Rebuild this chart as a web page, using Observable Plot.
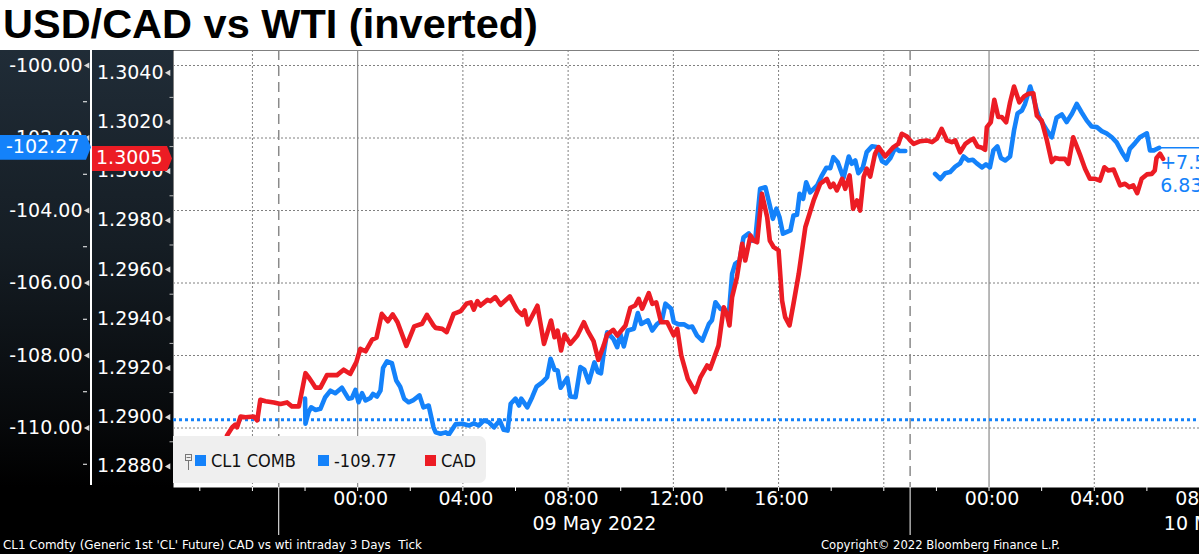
<!DOCTYPE html>
<html>
<head>
<meta charset="utf-8">
<script src="https://cdn.jsdelivr.net/npm/d3@7"></script>
<script src="https://cdn.jsdelivr.net/npm/@observablehq/plot@0.6"></script>
<style>
html,body{margin:0;padding:0;width:1199px;height:554px;overflow:hidden;background:#000;font-family:"DejaVu Sans",sans-serif;}
#title{position:absolute;left:0;top:0;width:1199px;height:50px;background:#fff;}
#title span{position:absolute;left:3px;top:3px;font:bold 41.5px/42px "Liberation Sans",Arial,sans-serif;color:#000;white-space:nowrap;}
#panel{position:absolute;left:0;top:50px;width:173px;height:437px;background:linear-gradient(to bottom,#202c37 0%,#151d24 45%,#07090b 85%,#000 100%);}
#axisline{position:absolute;left:90px;top:50px;width:1.5px;height:435px;background:#fff;}
#chart{position:absolute;left:0;top:50px;}
.lastlab{position:absolute;height:25px;line-height:25px;color:#fff;font:19px "DejaVu Sans",sans-serif;white-space:nowrap;box-sizing:border-box;clip-path:polygon(0 0,calc(100% - 5px) 0,100% 50%,calc(100% - 5px) 100%,0 100%);}
#legend{position:absolute;left:173px;top:436px;width:313px;height:47px;background:#efefef;border-radius:0 7px 7px 0;}
.lg{position:absolute;font:18px "DejaVu Sans Condensed","DejaVu Sans",sans-serif;color:#111;white-space:nowrap;line-height:20px;top:15px;}
.sq{position:absolute;width:11px;height:11px;top:19px;}
.foot{position:absolute;top:538px;font:12px "DejaVu Sans Condensed","DejaVu Sans",sans-serif;color:#fff;white-space:nowrap;transform-origin:left center;line-height:14px;}
</style>
</head>
<body>
<div id="title"><span>USD/CAD vs WTI (inverted)</span></div>
<div id="panel"></div>
<div id="axisline"></div>
<div id="chart"></div>
<div id="legend">
  <svg style="position:absolute;left:11px;top:17px" width="10" height="18"><rect x="1.5" y="1.5" width="6" height="6" fill="none" stroke="#777" stroke-width="1"/><line x1="4.5" y1="7.5" x2="4.5" y2="17" stroke="#777" stroke-width="1"/><line x1="2.5" y1="4.5" x2="6.5" y2="4.5" stroke="#777" stroke-width="1"/></svg>
  <div class="sq" id="sq1" style="left:22px"></div><div class="lg" id="lg1" style="left:38px"></div>
  <div class="sq" id="sq2" style="left:145px"></div><div class="lg" id="lg2" style="left:161px"></div>
  <div class="sq" id="sq3" style="left:252px"></div><div class="lg" id="lg3" style="left:268px"></div>
</div>
<div class="foot" id="foot1" style="left:3px">CL1 Comdty (Generic 1st 'CL' Future) CAD vs wti intraday 3 Days&nbsp;&nbsp;Tick</div>
<div class="foot" id="foot2" style="left:821px">Copyright© 2022 Bloomberg Finance L.P.</div>
<script>
// ---------------- data ----------------
const titleText = "USD/CAD vs WTI (inverted)";
const legendLabels = ["CL1 COMB", "-109.77", "CAD"];
const refLevel = -109.77;           // dotted reference level (inverted WTI)
const rightNotes = ["+7.51", "6.83"];

const wtiTicks = [-100, -102, -104, -106, -108, -110];
const wtiMinor = [-101, -103, -105, -107, -109, -111];
const cadTicks = [1.2880, 1.2900, 1.2920, 1.2940, 1.2960, 1.2980, 1.3000, 1.3020, 1.3040];
const cadMinor = [1.2890, 1.2910, 1.2930, 1.2950, 1.2970, 1.2990, 1.3010, 1.3030];

const timeLabelTimes = ["05-09 00:00","05-09 04:00","05-09 08:00","05-09 12:00","05-09 16:00","05-10 00:00","05-10 04:00","05-10 08:00"];
const timeLabels = ["00:00","04:00","08:00","12:00","16:00","00:00","04:00","08:00"];
const dateLabelTimes = ["05-09 09:00","05-10 09:00"];
const dateLabels = ["09 May 2022","10 May 2022"];
const dottedGridTimes = ["05-08 20:00","05-09 04:00","05-09 08:00","05-09 12:00","05-09 16:00","05-09 20:00","05-10 04:00","05-10 08:00"];
const midnightTimes = ["05-09 00:00","05-10 00:00"];
const sessionTimes = ["05-08 21:00","05-09 21:00"];
const domainTimes = ["05-08 17:00","05-10 08:00"];

const cadTimes = ["05-08 19:02","05-08 19:14","05-08 19:21","05-08 19:25","05-08 19:33","05-08 19:44","05-08 20:03","05-08 20:11","05-08 20:18","05-08 20:30",
"05-08 20:49","05-08 21:04","05-08 21:19","05-08 21:30","05-08 21:46","05-08 22:01","05-08 22:08","05-08 22:16","05-08 22:24","05-08 22:35",
"05-08 22:50","05-08 23:13","05-08 23:28","05-08 23:43","05-08 23:57","05-09 00:06","05-09 00:18","05-09 00:33","05-09 00:43","05-09 00:55",
"05-09 01:09","05-09 01:20","05-09 01:31","05-09 01:51","05-09 02:09","05-09 02:27","05-09 02:38","05-09 02:53","05-09 02:58","05-09 03:13",
"05-09 03:23","05-09 03:39","05-09 03:55","05-09 04:08","05-09 04:18","05-09 04:25","05-09 04:33","05-09 04:40","05-09 04:56","05-09 05:03",
"05-09 05:14","05-09 05:26","05-09 05:47","05-09 06:04","05-09 06:15","05-09 06:21","05-09 06:28","05-09 06:50","05-09 07:05","05-09 07:21",
"05-09 07:29","05-09 07:36","05-09 07:44","05-09 07:52","05-09 08:05","05-09 08:21","05-09 08:36","05-09 08:45","05-09 08:58","05-09 09:09",
"05-09 09:21","05-09 09:29","05-09 09:43","05-09 09:52","05-09 10:11","05-09 10:22","05-09 10:33","05-09 10:41","05-09 10:49","05-09 11:04",
"05-09 11:12","05-09 11:21","05-09 11:32","05-09 11:46","05-09 12:01","05-09 12:09","05-09 12:18","05-09 12:33","05-09 12:50","05-09 13:02",
"05-09 13:17","05-09 13:24","05-09 13:43","05-09 13:55","05-09 14:02","05-09 14:08","05-09 14:14","05-09 14:25","05-09 14:37","05-09 14:44",
"05-09 14:56","05-09 15:03","05-09 15:11","05-09 15:22","05-09 15:34","05-09 15:40","05-09 15:49","05-09 16:00","05-09 16:08","05-09 16:15",
"05-09 16:25","05-09 16:34","05-09 16:46","05-09 17:01","05-09 17:20","05-09 17:35","05-09 17:50","05-09 17:58","05-09 18:05","05-09 18:13",
"05-09 18:25","05-09 18:32","05-09 18:42","05-09 18:50","05-09 18:59","05-09 19:06","05-09 19:14","05-09 19:21","05-09 19:29","05-09 19:40",
"05-09 19:48","05-09 20:03","05-09 20:22","05-09 20:33","05-09 20:41","05-09 20:53","05-09 21:00","05-09 21:08","05-09 21:23","05-09 21:38",
"05-09 21:50","05-09 22:01","05-09 22:12","05-09 22:24","05-09 22:35","05-09 22:43","05-09 22:54","05-09 23:06","05-09 23:17","05-09 23:24",
"05-09 23:34","05-09 23:44","05-09 23:51","05-09 23:55","05-10 00:04","05-10 00:12","05-10 00:21","05-10 00:29","05-10 00:39","05-10 00:48",
"05-10 00:57","05-10 01:09","05-10 01:20","05-10 01:30","05-10 01:41","05-10 01:49","05-10 02:00","05-10 02:12","05-10 02:23","05-10 02:31",
"05-10 02:42","05-10 02:53","05-10 03:01","05-10 03:12","05-10 03:28","05-10 03:39","05-10 03:50","05-10 04:02","05-10 04:13","05-10 04:23",
"05-10 04:32","05-10 04:44","05-10 04:59","05-10 05:10","05-10 05:20","05-10 05:29","05-10 05:38","05-10 05:48","05-10 06:00","05-10 06:11",
"05-10 06:18","05-10 06:22","05-10 06:30","05-10 06:37"];
const cadValues = [1.28926,1.28959,1.28970,1.28959,1.29003,1.29000,1.29003,1.28987,1.29071,1.29065,
1.29060,1.29054,1.29060,1.29044,1.29044,1.29179,1.29163,1.29142,1.29120,1.29120,
1.29171,1.29171,1.29193,1.29176,1.29224,1.29278,1.29268,1.29315,1.29323,1.29420,
1.29390,1.29418,1.29386,1.29290,1.29369,1.29380,1.29416,1.29373,1.29363,1.29359,
1.29346,1.29420,1.29431,1.29461,1.29467,1.29437,1.29472,1.29454,1.29477,1.29472,
1.29488,1.29457,1.29491,1.29434,1.29416,1.29434,1.29377,1.29453,1.29298,1.29393,
1.29325,1.29352,1.29271,1.29336,1.29298,1.29332,1.29386,1.29350,1.29309,1.29233,
1.29291,1.29336,1.29355,1.29332,1.29373,1.29445,1.29454,1.29481,1.29441,1.29504,
1.29461,1.29467,1.29386,1.29386,1.29332,1.29359,1.29251,1.29156,1.29102,1.29163,
1.29210,1.29197,1.29291,1.29447,1.29420,1.29373,1.29488,1.29569,1.29705,1.29637,
1.29739,1.29718,1.29711,1.29908,1.29813,1.29718,1.29691,1.29678,1.29474,1.29407,
1.29373,1.29461,1.29583,1.29772,1.29881,1.29949,1.29969,1.29935,1.29949,1.29922,
1.29969,1.29928,1.29983,1.29847,1.29881,1.29840,1.29976,1.30010,1.29978,1.30071,
1.30098,1.30060,1.30098,1.30111,1.30152,1.30141,1.30125,1.30111,1.30122,1.30125,
1.30118,1.30132,1.30172,1.30125,1.30118,1.30125,1.30077,1.30111,1.30125,1.30132,
1.30100,1.30095,1.30087,1.30179,1.30199,1.30290,1.30220,1.30220,1.30199,1.30280,
1.30344,1.30280,1.30304,1.30315,1.30317,1.30226,1.30206,1.30125,1.30037,1.30054,
1.30050,1.30050,1.30030,1.30138,1.30064,1.30010,1.29969,1.29969,1.29962,1.30016,
1.30003,1.30007,1.29942,1.29949,1.29935,1.29942,1.29911,1.29969,1.29987,1.29989,
1.30003,1.30054,1.30071,1.30050];

const wtiTimes = ["05-08 22:00","05-08 22:01","05-08 22:08","05-08 22:14","05-08 22:24","05-08 22:35","05-08 22:46","05-08 22:58","05-08 23:09","05-08 23:24",
"05-08 23:39","05-08 23:47","05-08 23:55","05-09 00:02","05-09 00:10","05-09 00:18","05-09 00:29","05-09 00:35","05-09 00:44","05-09 00:52",
"05-09 00:58","05-09 01:07","05-09 01:18","05-09 01:28","05-09 01:37","05-09 01:46","05-09 01:56","05-09 02:06","05-09 02:21","05-09 02:30",
"05-09 02:42","05-09 02:53","05-09 02:58","05-09 03:09","05-09 03:21","05-09 03:28","05-09 03:43","05-09 03:59","05-09 04:14","05-09 04:25",
"05-09 04:36","05-09 04:48","05-09 04:59","05-09 05:11","05-09 05:24","05-09 05:33","05-09 05:42","05-09 05:49","05-09 06:00","05-09 06:08",
"05-09 06:13","05-09 06:27","05-09 06:38","05-09 06:48","05-09 07:01","05-09 07:12","05-09 07:20","05-09 07:29","05-09 07:36","05-09 07:43",
"05-09 07:58","05-09 08:05","05-09 08:17","05-09 08:28","05-09 08:37","05-09 08:47","05-09 09:00","05-09 09:08","05-09 09:15","05-09 09:21",
"05-09 09:29","05-09 09:43","05-09 09:52","05-09 09:59","05-09 10:07","05-09 10:16","05-09 10:30","05-09 10:39","05-09 10:47","05-09 11:02",
"05-09 11:12","05-09 11:23","05-09 11:34","05-09 11:42","05-09 11:55","05-09 12:01","05-09 12:12","05-09 12:24","05-09 12:35","05-09 12:43",
"05-09 12:54","05-09 13:06","05-09 13:21","05-09 13:28","05-09 13:36","05-09 13:47","05-09 13:59","05-09 14:06","05-09 14:14","05-09 14:21",
"05-09 14:31","05-09 14:40","05-09 14:52","05-09 14:59","05-09 15:07","05-09 15:18","05-09 15:30","05-09 15:41","05-09 15:47","05-09 15:55",
"05-09 16:02","05-09 16:10","05-09 16:27","05-09 16:34","05-09 16:42","05-09 16:48","05-09 16:56","05-09 17:03","05-09 17:12","05-09 17:28",
"05-09 17:39","05-09 17:49","05-09 17:58","05-09 18:05","05-09 18:15","05-09 18:28","05-09 18:40","05-09 18:47","05-09 18:55","05-09 19:02",
"05-09 19:12","05-09 19:21","05-09 19:33","05-09 19:44","05-09 19:56","05-09 20:05","05-09 20:15","05-09 20:26","05-09 20:36","05-09 20:49",
"05-09 21:30",
"05-09 21:57","05-09 22:09","05-09 22:20","05-09 22:31","05-09 22:43","05-09 22:54","05-09 23:02","05-09 23:13","05-09 23:23","05-09 23:32",
"05-09 23:44","05-09 23:53","05-10 00:02","05-10 00:10","05-10 00:19","05-10 00:27","05-10 00:37","05-10 00:48","05-10 00:57","05-10 01:05",
"05-10 01:15","05-10 01:22","05-10 01:34","05-10 01:41","05-10 01:49","05-10 01:56","05-10 02:12","05-10 02:23","05-10 02:34","05-10 02:46",
"05-10 02:57","05-10 03:09","05-10 03:20","05-10 03:31","05-10 03:43","05-10 03:54","05-10 04:06","05-10 04:17","05-10 04:28","05-10 04:40",
"05-10 04:51","05-10 05:03","05-10 05:14","05-10 05:21","05-10 05:33","05-10 05:44","05-10 06:00","05-10 06:07","05-10 06:16","05-10 06:28"];
const wtiValues = [-109.19,-109.88,-109.56,-109.43,-109.50,-109.47,-109.15,-108.97,-109.04,-108.89,
-109.19,-109.17,-108.95,-109.29,-109.04,-109.24,-109.17,-109.06,-109.13,-108.97,
-108.34,-108.16,-108.21,-108.69,-108.86,-109.19,-109.29,-109.24,-109.10,-109.43,
-109.38,-109.98,-110.12,-110.16,-110.12,-110.18,-109.90,-109.88,-109.93,-109.87,
-109.93,-109.79,-109.84,-109.98,-109.79,-110.05,-110.07,-109.33,-109.19,-109.38,
-109.19,-109.43,-109.15,-108.86,-108.74,-108.60,-108.09,-108.39,-108.41,-108.89,
-108.62,-109.13,-109.15,-108.32,-108.39,-108.74,-108.19,-108.46,-108.49,-107.95,
-107.36,-107.54,-107.77,-107.40,-107.75,-107.31,-107.26,-106.83,-107.13,-107.03,
-107.31,-107.13,-107.03,-106.57,-106.71,-107.08,-107.14,-107.14,-107.22,-107.20,
-107.45,-107.59,-107.13,-107.03,-106.53,-106.71,-106.76,-106.94,-105.75,-105.47,
-105.38,-104.74,-104.63,-104.83,-104.78,-103.40,-103.36,-103.91,-104.23,-103.95,
-104.18,-104.64,-104.55,-104.14,-104.12,-103.54,-103.68,-103.22,-103.50,-103.31,
-103.03,-102.82,-102.83,-102.53,-102.67,-103.10,-102.51,-102.71,-102.62,-102.97,
-102.82,-102.39,-102.23,-102.25,-102.64,-102.70,-102.55,-102.27,-102.36,-102.36,
null,
-102.99,-103.13,-102.97,-102.94,-102.79,-102.70,-102.51,-102.62,-102.60,-102.70,
-102.81,-102.73,-102.81,-102.34,-102.23,-102.55,-102.62,-102.51,-101.79,-101.32,
-101.24,-101.06,-100.58,-100.87,-101.24,-101.47,-101.79,-101.98,-101.44,-101.35,
-101.56,-101.33,-101.06,-101.29,-101.52,-101.68,-101.70,-101.81,-101.87,-101.98,
-102.12,-102.39,-102.60,-102.30,-102.14,-101.98,-101.87,-102.34,-102.34,-102.27];

// ---------------- build ----------------
const BLUE = "#1482fa", RED = "#ec1c24", GRID = "#808080";
const parseT = s => new Date("2022-" + s.replace(" ", "T") + ":00Z");
const xDomain = domainTimes.map(parseT);
const W = 1199, H = 504, MB = 67, ML = 173;
const yDomain = [-111.641, -99.586];
const cadDomain = [1.287142, 1.304906];
const cadToY = d3.scaleLinear().domain(cadDomain).range(yDomain);

const cad = cadTimes.map((t, i) => ({t: parseT(t), v: cadValues[i]}));
const wti = wtiTimes.map((t, i) => ({t: parseT(t), v: wtiValues[i]}));
const lastCad = cad[cad.length - 1];
const lastWti = wti[wti.length - 1];

const dash = {draw(ctx, size) { const r = Math.sqrt(size / Math.PI); ctx.moveTo(-r, 0); ctx.lineTo(r, 0); }};
const atLeft = () => xDomain[0];
const twoHour = d3.utcHour.every(2).range(xDomain[0], new Date(+xDomain[1] + 1));
const FONT = "DejaVu Sans";

const plot = Plot.plot({
  width: W, height: H,
  marginTop: 0, marginRight: 0, marginBottom: MB, marginLeft: ML,
  style: {background: "transparent", overflow: "visible"},
  x: {type: "utc", domain: xDomain, axis: null},
  y: {domain: yDomain, axis: null},
  marks: [
    Plot.frame({fill: "white", stroke: "none"}),
    Plot.ruleY(wtiTicks, {stroke: GRID, strokeWidth: 1, strokeDasharray: "2,2"}),
    Plot.ruleX(dottedGridTimes.map(parseT), {stroke: GRID, strokeWidth: 1, strokeDasharray: "2,2"}),
    Plot.ruleX(midnightTimes.map(parseT), {stroke: "#8a8a8a", strokeWidth: 1.2}),
    Plot.ruleX(sessionTimes.map(parseT), {stroke: "#8a8a8a", strokeWidth: 1.5, strokeDasharray: "10,6"}),
    Plot.ruleY([refLevel], {stroke: BLUE, strokeWidth: 3, strokeDasharray: "3,3"}),
    Plot.line(wti, {x: "t", y: "v", stroke: BLUE, strokeWidth: 4.6, strokeLinejoin: "round"}),
    Plot.line(cad, {x: "t", y: d => cadToY(d.v), stroke: RED, strokeWidth: 4.6, strokeLinejoin: "round"}),
    Plot.ruleY([lastWti.v], {x1: lastWti.t, x2: xDomain[1], stroke: BLUE, strokeWidth: 1.5}),
    Plot.text(rightNotes, {x: () => lastWti.t, y: () => lastWti.v, text: d => d, textAnchor: "start", dx: 1, fill: BLUE, fontSize: 19, fontFamily: FONT}),
    // left (inverted WTI) axis
    Plot.text(wtiTicks, {x: atLeft, y: d => d, text: d => d.toFixed(2), textAnchor: "end", dx: -91, fill: "white", fontSize: 19, fontFamily: FONT}),
    Plot.dot(wtiTicks, {x: atLeft, y: d => d, symbol: "triangle", rotate: -90, r: 2.3, fill: "#d8d8d8", stroke: "none", dx: -86}),
    Plot.dot(wtiMinor, {x: atLeft, y: d => d, symbol: dash, r: 2, stroke: "white", strokeWidth: 1, dx: -88.5}),
    // USD/CAD axis
    Plot.text(cadTicks, {x: atLeft, y: d => cadToY(d), text: d => d.toFixed(4), textAnchor: "end", dx: -10, fill: "white", fontSize: 19, fontFamily: FONT}),
    Plot.dot(cadTicks, {x: atLeft, y: d => cadToY(d), symbol: "triangle", rotate: -90, r: 2.3, fill: "#d8d8d8", stroke: "none", dx: -5}),
    Plot.dot(cadMinor, {x: atLeft, y: d => cadToY(d), symbol: dash, r: 2, stroke: "#bbbbbb", strokeWidth: 1, dx: -2}),
    // x axis
    Plot.ruleX(twoHour, {stroke: "white", strokeWidth: 1, insetTop: H - MB, insetBottom: -4}),
    Plot.ruleX(sessionTimes.map(parseT), {stroke: "white", strokeWidth: 1, insetTop: H - MB, insetBottom: -48}),
    Plot.text(timeLabelTimes.map(parseT), {x: d => d, frameAnchor: "bottom", lineAnchor: "middle", text: (d, i) => timeLabels[i], dx: 3, dy: 11, fill: "white", fontSize: 19, fontFamily: FONT}),
    Plot.text(dateLabelTimes.map(parseT), {x: d => d, frameAnchor: "bottom", lineAnchor: "middle", text: (d, i) => dateLabels[i], dy: 36, fill: "white", fontSize: 19, fontFamily: FONT})
  ]
});
document.getElementById("chart").appendChild(plot);

const yS = plot.scale("y");
const yPix = v => (yS && yS.apply) ? yS.apply(v) : d3.scaleLinear().domain(yDomain).range([H - MB, 0])(v);

// right-side notes: stack below the last WTI point
(function(){
  const texts = Array.from(plot.querySelectorAll("text")).filter(t => rightNotes.includes(t.textContent));
  texts.forEach((t, i) => t.setAttribute("transform", (t.getAttribute("transform") || "") + ` translate(0,${i === 0 ? 15 : 38})`));
})();

// last-value labels
function lastLabel(text, left, width, v, bg, pad) {
  const d = document.createElement("div");
  d.className = "lastlab";
  d.textContent = text;
  d.style.left = left + "px";
  d.style.width = width + "px";
  d.style.top = (50 + v - 12.5) + "px";
  d.style.background = bg;
  d.style.paddingLeft = pad + "px";
  document.body.appendChild(d);
}
lastLabel(lastWti.v.toFixed(2), 0, 91, yPix(lastWti.v), BLUE, 6);
lastLabel(lastCad.v.toFixed(4), 92, 80, yPix(cadToY(lastCad.v)), RED, 4);

// legend
document.getElementById("sq1").style.background = BLUE;
document.getElementById("sq2").style.background = BLUE;
document.getElementById("sq3").style.background = RED;
document.getElementById("lg1").textContent = legendLabels[0];
document.getElementById("lg2").textContent = legendLabels[1];
document.getElementById("lg3").textContent = legendLabels[2];

// footer fit
function fit(id, w) {
  const el = document.getElementById(id);
  const cw = el.getBoundingClientRect().width;
  if (cw > 0) el.style.transform = `scaleX(${w / cw})`;
}
fit("foot1", 419);
fit("foot2", 239);
</script>
</body>
</html>
